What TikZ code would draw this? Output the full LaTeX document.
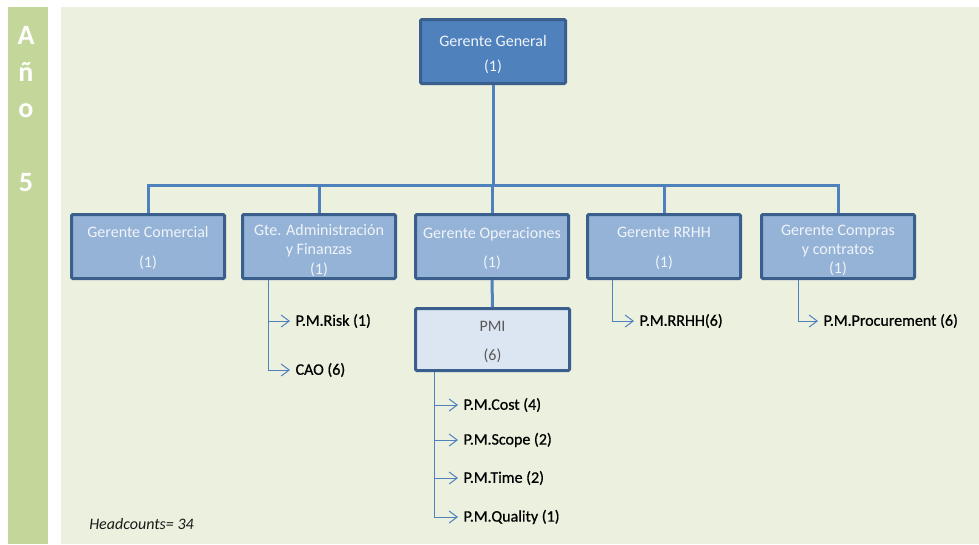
\documentclass[tikz,border=0pt]{standalone}
\usepackage{fontspec}
\setmainfont{Carlito}
\newfontfamily\itemfont[FakeBold=0.7]{Carlito}
\usetikzlibrary{arrows.meta}
\definecolor{panel}{HTML}{EBF0DF}
\definecolor{bar}{HTML}{C4D79B}
\definecolor{dark}{HTML}{4F81BD}
\definecolor{mid}{HTML}{95B3D7}
\definecolor{light}{HTML}{DCE6F2}
\definecolor{edge}{HTML}{3A5F8C}
\definecolor{wtext}{HTML}{F0F4F9}
\definecolor{gtext}{HTML}{595959}
\tikzset{
  box/.style={draw=edge, line width=2.25pt, rounded corners=1pt, inner sep=0pt},
  topbox/.style={box, fill=dark, minimum width=108.75pt, minimum height=48pt},
  midbox/.style={box, fill=mid, minimum width=114.75pt, minimum height=48pt},
  pmibox/.style={box, fill=light, minimum width=115.5pt, minimum height=46.5pt},
  btext/.style={inner sep=0pt, align=center, text=wtext, font=\fontsize{12}{14.4}\selectfont},
  ptext/.style={btext, text=gtext},
  bus/.style={draw=dark, line width=2.25pt},
  sub/.style={draw=dark, line width=0.75pt, -{Straight Barb[length=6pt,width=9pt,line width=0.75pt]}},
  item/.style={anchor=west, inner sep=4pt, text=black, font=\itemfont\fontsize{12}{14.4}\selectfont},
}
\begin{document}
\begin{tikzpicture}[x=0.75pt, y=-0.75pt]
\useasboundingbox (0,0) rectangle (979,544);
\fill[white] (0,0) rectangle (979,544);
\fill[bar] (8,7) rectangle (48,544);
\fill[panel] (61,7) rectangle (979,544);
\node[text=white, align=center, font=\bfseries\fontsize{21}{27.4}\selectfont] (ano) at (26,109) {A\\ñ\\o\\[27.4pt]5};

\node[topbox] (gg) at (493,51.5) {};
\node[midbox] (com) at (148,246.5) {};
\node[midbox] (adm) at (319,246.5) {};
\node[midbox] (ope) at (492,246.5) {};
\node[midbox] (rrhh) at (664,246.5) {};
\node[midbox] (comp) at (838,246.5) {};
\node[pmibox] (pmi) at (492.5,339.5) {};

\node[btext] (ggt) at ([yshift=-2.25pt]gg.center) {Gerente General\\[4.3pt](1)};
\node[btext] (comt) at ([yshift=-1.5pt]com.center) {Gerente Comercial\\[8.1pt](1)};
\node[btext] (admt) at ([yshift=-3pt]adm.center) {Gte. Administración\\y Finanzas\\(1)};
\node[btext] (opet) at ([yshift=-1.5pt]ope.center) {Gerente Operaciones\\[7.4pt](1)};
\node[btext] (rrhht) at ([yshift=-1.5pt]rrhh.center) {Gerente RRHH\\[8.1pt](1)};
\node[btext] (compt) at ([yshift=-3pt]comp.center) {Gerente Compras\\y contratos\\(1)};
\node[ptext] (pmit) at ([yshift=-2pt]pmi.center) {PMI\\[7.4pt](6)};

\coordinate (busy) at (0,185);
\draw[bus] (gg.south) -- (gg.south |- busy);
\draw[bus] (com.north) |- (gg.south |- busy) -| (comp.north);
\draw[bus] (adm.north) -- (adm.north |- busy);
\draw[bus] (ope.north) -- (ope.north |- busy);
\draw[bus] (rrhh.north) -- (rrhh.north |- busy);
\draw[bus] (ope.south) -- (pmi.north);

% Administracion
\coordinate (admtr) at (268,280);
\node[item] (risk) at (290,321) {P.M.Risk (1)};
\node[item] (cao) at (290,370) {CAO (6)};
\draw[sub] (admtr) |- (risk.west);
\draw[sub] (admtr) |- (cao.west);

% PMI
\coordinate (pmitr) at (434,372);
\node[item] (cost) at (458,405) {P.M.Cost (4)};
\node[item] (scope) at (458,440) {P.M.Scope (2)};
\node[item] (time) at (458,478) {P.M.Time (2)};
\node[item] (qual) at (458,517) {P.M.Quality (1)};
\draw[sub] (pmitr) |- (cost.west);
\draw[sub] (pmitr) |- (scope.west);
\draw[sub] (pmitr) |- (time.west);
\draw[sub] (pmitr) |- (qual.west);

% RRHH
\coordinate (rrhhtr) at (612,280);
\node[item] (pmrrhh) at (634,321) {P.M.RRHH(6)};
\draw[sub] (rrhhtr) |- (pmrrhh.west);

% Compras
\coordinate (comptr) at (798,280);
\node[item] (proc) at (818,321) {P.M.Procurement (6)};
\draw[sub] (comptr) |- (proc.west);

\node[anchor=west, inner sep=0pt, text=black!90, font=\itshape\fontsize{12}{14.4}\selectfont] (hc) at (89,524) {Headcounts= 34};
\end{tikzpicture}
\end{document}
